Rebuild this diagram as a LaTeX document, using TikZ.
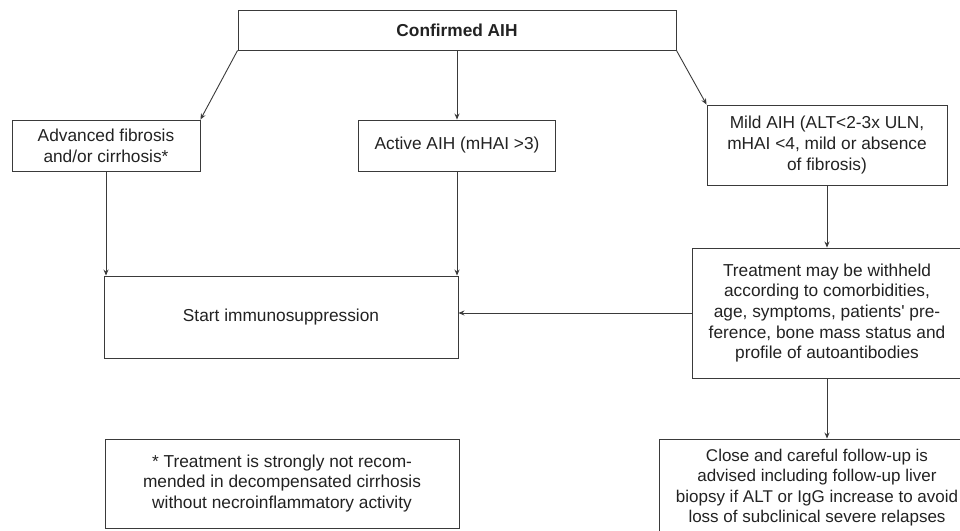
\documentclass[tikz,border=0pt]{standalone}
\usepackage{fontspec}
\setmainfont{Liberation Sans}
\usetikzlibrary{arrows.meta}
\definecolor{linegray}{HTML}{3A3A3A}
\definecolor{textgray}{HTML}{222222}
\begin{document}
\begin{tikzpicture}[x=1pt,y=-1pt,
  box/.style={draw=linegray, line width=0.9pt, align=center, inner sep=0pt, text=textgray,
    font=\fontsize{17.3}{20.7}\selectfont},
  arr/.style={draw=linegray, line width=0.9pt, -{Stealth[length=6pt,width=5pt]}}]
\useasboundingbox (0,0) rectangle (960,530);
\node[box, minimum width=438, minimum height=40, font=\fontsize{17.3}{20.7}\selectfont\bfseries] (aih) at (457,30) {Confirmed AIH};
\node[box, minimum width=188, minimum height=51] (fib) at (106,145.5) {Advanced fibrosis\\and/or cirrhosis*};
\node[box, minimum width=197, minimum height=51] (act) at (457,145.5) {Active AIH (mHAI >3)};
\node[box, minimum width=240, minimum height=80] (mild) at (827,145) {Mild AIH (ALT<2-3x ULN,\\mHAI <4, mild or absence\\of fibrosis)};
\node[box, minimum width=354, minimum height=82] (start) at (281,317) {Start immunosuppression};
\node[box, minimum width=270, minimum height=130] (hold) at (827,313) {Treatment may be withheld\\according to comorbidities,\\age, symptoms, patients\textquotesingle{} pre-\\ference, bone mass status and\\profile of autoantibodies};
\node[box, minimum width=316, minimum height=97, font=\fontsize{17}{20.5}\selectfont] (follow) at (817,487.5) {Close and careful follow-up is\\advised including follow-up liver\\biopsy if ALT or IgG increase to avoid\\loss of subclinical severe relapses};
\node[box, minimum width=354, minimum height=89] (note) at (282,483.5) {* Treatment is strongly not recom-\\mended in decompensated cirrhosis\\without necroinflammatory activity};

\path[arr] (aih.south west) -- (fib.north east);
\path[arr] (aih.south) -- (act.north);
\path[arr] (aih.south east) -- (mild.north west);
\path[arr] (fib.south) -- (fib.south |- start.north);
\path[arr] (act.south) -- (act.south |- start.north);
\path[arr] (mild.south) -- (hold.north);
\path[arr] (hold.west) -- (hold.west -| start.east);
\path[arr] (hold.south) -- (hold.south |- follow.north);
\end{tikzpicture}
\end{document}
